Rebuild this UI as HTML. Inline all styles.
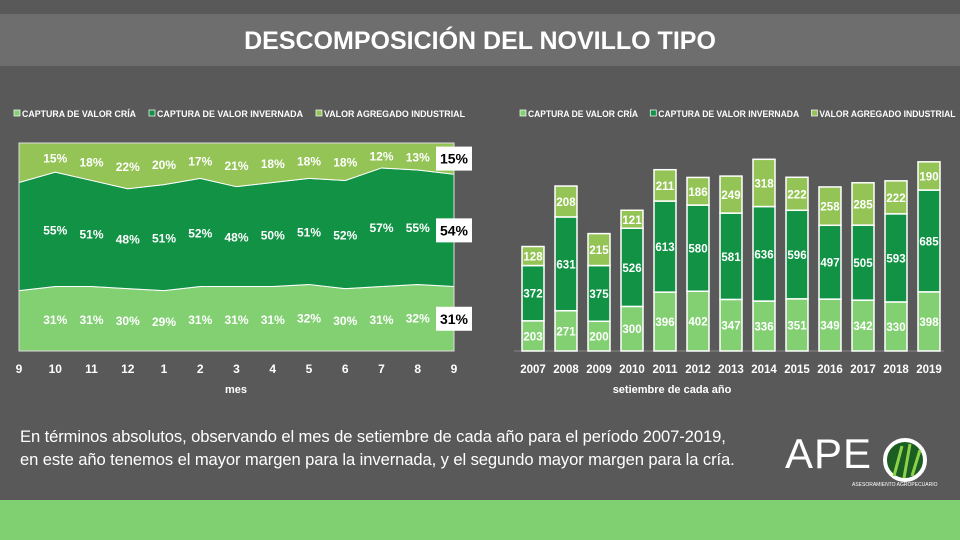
<!DOCTYPE html>
<html><head><meta charset="utf-8"><style>
body{margin:0;width:960px;height:540px;background:#595959;overflow:hidden;font-family:"Liberation Sans",sans-serif;position:relative}
.t{position:absolute}
</style></head><body>
<div class="t" style="left:0;top:14px;width:960px;height:52px;background:#6e6e6e"></div>
<div class="t" style="left:0;top:27px;width:960px;text-align:center;color:#fff;font-weight:bold;font-size:25px">DESCOMPOSICIÓN DEL NOVILLO TIPO</div>
<svg class="t" style="left:0;top:0" width="960" height="540" id="svg"></svg>
<div class="t" style="left:20px;top:425px;color:#fff;font-size:16.6px;line-height:23px;letter-spacing:-0.1px">En términos absolutos, observando el mes de setiembre de cada año para el período 2007-2019,<br>en este año tenemos el mayor margen para la invernada, y el segundo mayor margen para la cría.</div>
<div class="t" style="left:785px;top:430px;color:#fff;font-size:42px;letter-spacing:1px">APE</div>
<svg class="t" style="left:882px;top:436px" width="50" height="50"><circle cx="23" cy="24" r="20" fill="#1a5e22" stroke="#fff" stroke-width="4"/><path d="M12 40 L20 10 M22 42 L28 8 M30 40 L38 14" stroke="#8fd04a" stroke-width="3"/></svg>
<div class="t" style="left:852px;top:482px;color:#fff;font-size:5px">ASESORAMIENTO AGROPECUARIO</div>
<div class="t" style="left:0;top:500px;width:960px;height:40px;background:#80cf70"></div>
<script>
const months=['9','10','11','12','1','2','3','4','5','6','7','8','9'];
const criaPct=[29,31,31,30,29,31,31,31,32,30,31,32,31];
const invPct=[52,55,51,48,51,52,48,50,51,52,57,55,54];
const indPct=[19,15,18,22,20,17,21,18,18,18,12,13,15];
const years=['2007','2008','2009','2010','2011','2012','2013','2014','2015','2016','2017','2018','2019'];
const cria=[203,271,200,300,396,402,347,336,351,349,342,330,398];
const inv=[372,631,375,526,613,580,581,636,596,497,505,593,685];
const ind=[128,208,215,121,211,186,249,318,222,258,285,222,190];
const C1='#83d073',C2='#129245',C3='#94c456';
const svg=document.getElementById('svg');const NS='http://www.w3.org/2000/svg';
function mk(tag,at,txt){const e=document.createElementNS(NS,tag);for(const k in at)e.setAttribute(k,at[k]);if(txt!=null)e.textContent=txt;svg.appendChild(e);return e;}
// left chart
const L0=19,L1=454,T=143,B=351;
const lx=i=>L0+i*(L1-L0)/(months.length-1);
const ly=p=>B-p/100*(B-T);
function area(lo,hi,col,name){let d='M'+lx(0)+','+ly(hi[0]);hi.forEach((v,i)=>d+=' L'+lx(i)+','+ly(v));for(let i=lo.length-1;i>=0;i--)d+=' L'+lx(i)+','+ly(lo[i]);const p=mk('path',{d:d+'Z',fill:col,stroke:'#fff','stroke-width':1});

}
const z=months.map(()=>0),c1=criaPct.slice(),c2=criaPct.map((v,i)=>v+invPct[i]),c3=months.map(()=>100);
area(z,c1,C1,'area-cria');area(c1,c2,C2,'area-invernada');area(c2,c3,C3,'area-industrial');
mk('rect',{x:L0,y:T,width:L1-L0,height:B-T,fill:'none',stroke:'#ddd','stroke-width':1});
months.forEach((m,i)=>{const t=mk('text',{x:lx(i),y:373,fill:'#fff','font-size':12,'font-weight':'bold','text-anchor':'middle'},m);


const bands=[[0,criaPct[i]],[criaPct[i],c2[i]],[c2[i],100]];const vals=[criaPct[i],invPct[i],indPct[i]];
bands.forEach((b,k)=>{const y=ly((b[0]+b[1])/2)+5;if(i===0)return;
if(i===months.length-1){const r=mk('rect',{x:436,y:y-17,width:36,height:24,fill:'#fff'});


const tt=mk('text',{x:454,y:y,fill:'#000','font-size':14,'font-weight':'bold','text-anchor':'middle'},vals[k]+'%');

}
else{const tt=mk('text',{x:lx(i),y:y,fill:'#fff','font-size':12,'font-weight':'bold','text-anchor':'middle'},vals[k]+'%');

}});});
const xt=mk('text',{x:236,y:393,fill:'#fff','font-size':11,'font-weight':'bold','text-anchor':'middle'},'mes');


function legend(x0,name,s){const items=[['CAPTURA DE VALOR CRÍA',C1,0,114],['CAPTURA DE VALOR INVERNADA',C2,135,146],['VALOR AGREGADO INDUSTRIAL',C3,302,141]];
items.forEach(it=>{const x=x0+it[2]*s;const r=mk('rect',{x:x,y:110,width:6,height:6,fill:it[1],stroke:'#fff','stroke-width':0.7});


const t=mk('text',{x:x+8,y:117,fill:'#fff','font-size':9,'font-weight':'bold',textLength:it[3]*s,lengthAdjust:'spacingAndGlyphs'},it[0]);

});}
legend(14,'legend-left',1);legend(520,'legend-right',0.965);
// right chart
const base=351,k=191.7/1290,bw=22;
const bx=i=>533+i*33;const hy=v=>v*k;
mk('line',{x1:514,x2:944,y1:base,y2:base,stroke:'#888','stroke-width':1});
years.forEach((yr,i)=>{let y=base;[[cria[i],C1,'bar-cria'],[inv[i],C2,'bar-invernada'],[ind[i],C3,'bar-industrial']].forEach(s=>{const h=hy(s[0]);y-=h;
const r=mk('rect',{x:bx(i)-bw/2,y:y,width:bw,height:h,fill:s[1],stroke:'#fff','stroke-width':1.5});


const t=mk('text',{x:bx(i),y:y+h/2+4.5,fill:'#fff','font-size':11.5,'font-weight':'bold','text-anchor':'middle'},s[0]);

});
const t=mk('text',{x:bx(i),y:373,fill:'#fff','font-size':11.5,'font-weight':'bold','text-anchor':'middle'},yr);

});
const xt2=mk('text',{x:672,y:393,fill:'#fff','font-size':11,'font-weight':'bold','text-anchor':'middle'},'setiembre de cada  año');


</script>
</body></html>
